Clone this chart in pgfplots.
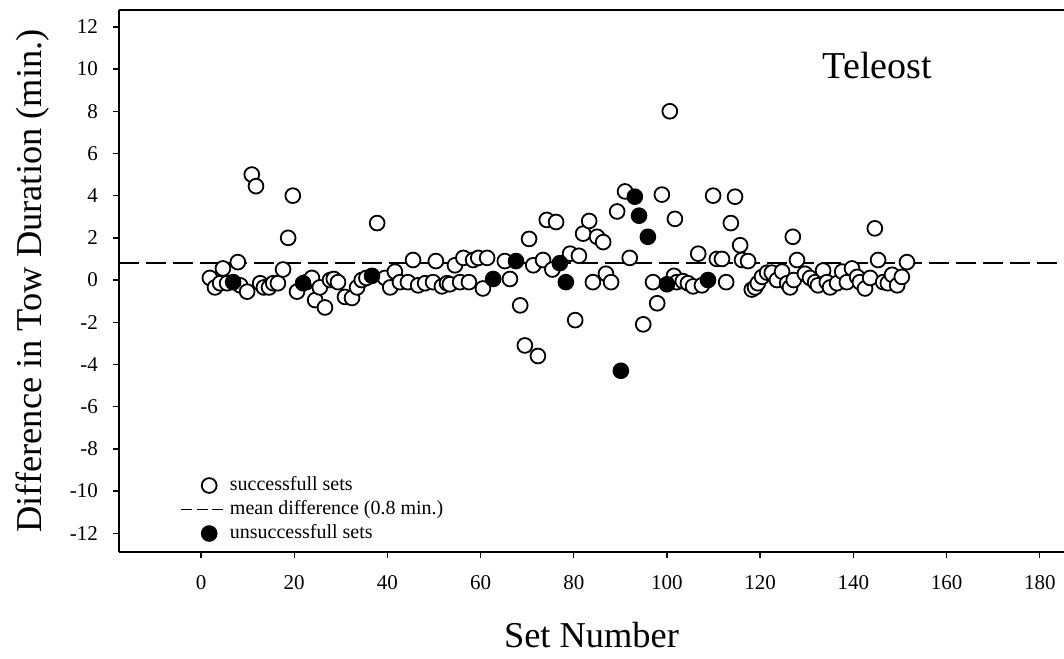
\documentclass[border=0pt]{standalone}
\usepackage{fontspec}
\setmainfont{Liberation Serif}
\usepackage{pgfplots}
\pgfplotsset{compat=1.18}
\usepackage{pgfplotstable}

% Difference in tow duration (min.) for each set
\pgfplotstableread{
set diff
1.9 0.1
3.0 -0.35
4.1 -0.15
4.7 0.55
5.6 -0.15
7.9 0.85
8.4 -0.25
9.9 -0.55
10.9 5.0
11.8 4.45
12.7 -0.15
13.5 -0.35
14.6 -0.35
15.5 -0.15
16.5 -0.15
17.6 0.5
18.7 2.0
19.7 4.0
20.6 -0.55
22.6 -0.1
23.8 0.1
24.5 -0.95
25.5 -0.35
26.6 -1.3
27.7 0.0
28.5 0.05
29.4 -0.1
30.9 -0.8
32.4 -0.85
33.5 -0.35
34.5 0.0
35.5 0.1
37.8 2.7
39.5 0.1
40.6 -0.35
41.6 0.4
42.7 -0.1
44.4 -0.1
45.5 0.95
46.6 -0.25
48.1 -0.15
49.8 -0.1
50.4 0.9
51.7 -0.3
52.8 -0.15
53.4 -0.2
54.5 0.7
55.6 -0.1
56.3 1.05
57.5 -0.1
58.4 0.95
59.5 1.05
60.5 -0.4
61.4 1.05
65.2 0.9
66.3 0.05
68.5 -1.2
69.5 -3.1
70.4 1.95
71.3 0.7
72.3 -3.6
73.4 0.95
74.2 2.85
75.4 0.5
76.2 2.75
79.2 1.25
80.3 -1.9
81.1 1.15
82.0 2.2
83.3 2.8
84.1 -0.1
85.0 2.05
86.3 1.8
86.9 0.3
88.0 -0.1
89.3 3.25
91.0 4.2
92.0 1.05
94.9 -2.1
97.0 -0.1
97.9 -1.1
98.9 4.05
100.6 8.0
101.7 2.9
101.5 0.2
102.1 -0.1
103.4 -0.05
104.5 -0.15
105.6 -0.3
106.7 1.25
107.5 -0.25
109.9 4.0
110.7 1.0
111.8 1.0
112.7 -0.1
113.7 2.7
114.6 3.95
115.7 1.65
116.1 0.95
117.4 0.9
118.2 -0.45
118.9 -0.35
119.5 -0.15
120.4 0.15
121.5 0.35
122.5 0.35
123.6 0.0
124.7 0.4
125.8 -0.15
126.4 -0.35
127.0 2.05
127.9 0.95
127.2 0.0
129.6 0.3
130.7 0.1
131.8 -0.1
132.4 -0.25
133.5 0.45
134.3 -0.1
135.0 -0.35
136.5 -0.15
137.6 0.4
138.6 -0.1
139.7 0.55
140.8 0.15
141.4 -0.1
142.5 -0.4
143.6 0.1
144.6 2.45
145.3 0.95
146.4 -0.1
147.4 -0.15
148.3 0.25
149.4 -0.25
150.4 0.15
151.5 0.85
}\successful

\pgfplotstableread{
set diff
6.9 -0.1
21.9 -0.15
36.7 0.2
62.7 0.05
67.6 0.9
77.0 0.8
78.3 -0.1
90.1 -4.3
93.1 3.95
94.0 3.05
95.9 2.05
100.0 -0.2
108.8 0.0
}\unsuccessful

\pgfplotsset{
  linelegend/.style={legend image code/.code={\draw[##1] (0pt,0pt) -- (21pt,0pt);}},
  marklegend/.style={legend image code/.code={\path (0pt,0pt) (21pt,0pt);
      \draw[##1] plot coordinates {(14pt,0pt)};}},
}

\begin{document}
\begin{tikzpicture}
\begin{axis}[
  scale only axis, width=472.5pt, height=271pt,
  xmin=-17.6, xmax=185.2, ymin=-12.89, ymax=12.8,
  clip=false,
  axis x line*=bottom, axis y line*=left,
  axis line style={line width=0.9pt},
  tick align=outside, tick style={black, line width=0.7pt}, major tick length=3pt,
  xtick={0,20,...,180}, ytick={-12,-10,...,12},
  xticklabels={0,20,40,60,80,100,120,140,160,180},
  yticklabels={-12,-10,-8,-6,-4,-2,0,2,4,6,8,10,12},
  ticklabel style={font=\fontsize{10.5}{12}\selectfont},
  yticklabel style={xshift=-4pt},
  xticklabel style={yshift=-5pt},
  xlabel={Set Number},
  ylabel={Difference in Tow Duration (min.)},
  label style={font=\fontsize{18.2}{21}\selectfont},
  xlabel style={at={(axis description cs:0.5,-0.153)}, anchor=center},
  ylabel style={at={(axis description cs:-0.091,0.5)}, anchor=center},
  legend style={draw=none, fill=none, inner sep=0pt, row sep=3pt,
    at={(axis description cs:0.0646,0.140)}, anchor=north west,
    font=\fontsize{10}{12}\selectfont,
    nodes={inner xsep=0pt, inner ysep=0pt, text height=7pt, text depth=2pt},
    /tikz/every odd column/.append style={column sep=3pt}},
  legend cell align=left,
]
% mean difference
\addplot[forget plot, black, line width=0.75pt, dash pattern=on 10pt off 3.5pt]
  coordinates {(-17.6,0.8) (185.2,0.8)};
\addplot[forget plot, only marks, mark=*, mark size=3.7pt,
  mark options={draw=black, fill=white, line width=0.9pt}]
  table[x=set, y=diff] {\successful};
\addplot[forget plot, only marks, mark=*, mark size=3.7pt,
  mark options={draw=black, fill=black, line width=0.9pt}]
  table[x=set, y=diff] {\unsuccessful};

\addlegendimage{marklegend, only marks, mark=*, mark size=3.7pt,
  mark options={draw=black, fill=white, line width=0.9pt}}
\addlegendentry{successfull sets}
\addlegendimage{linelegend, black, line width=0.75pt, dash pattern=on 5.5pt off 2.25pt}
\addlegendentry{mean difference (0.8 min.)}
\addlegendimage{marklegend, only marks, mark=*, mark size=3.7pt,
  mark options={draw=black, fill=black, line width=0.9pt}}
\addlegendentry{unsuccessfull sets}

\draw[line width=0.9pt] (rel axis cs:0,1) -- (rel axis cs:1,1);
\node[anchor=base west, inner sep=0pt, font=\fontsize{19}{22}\selectfont]
  at (axis cs:133.3,9.57) {Teleost};
\end{axis}
\pgfresetboundingbox
\path[use as bounding box] (-59.5pt,-53pt) rectangle (472.5pt,276pt);
\end{tikzpicture}
\end{document}
